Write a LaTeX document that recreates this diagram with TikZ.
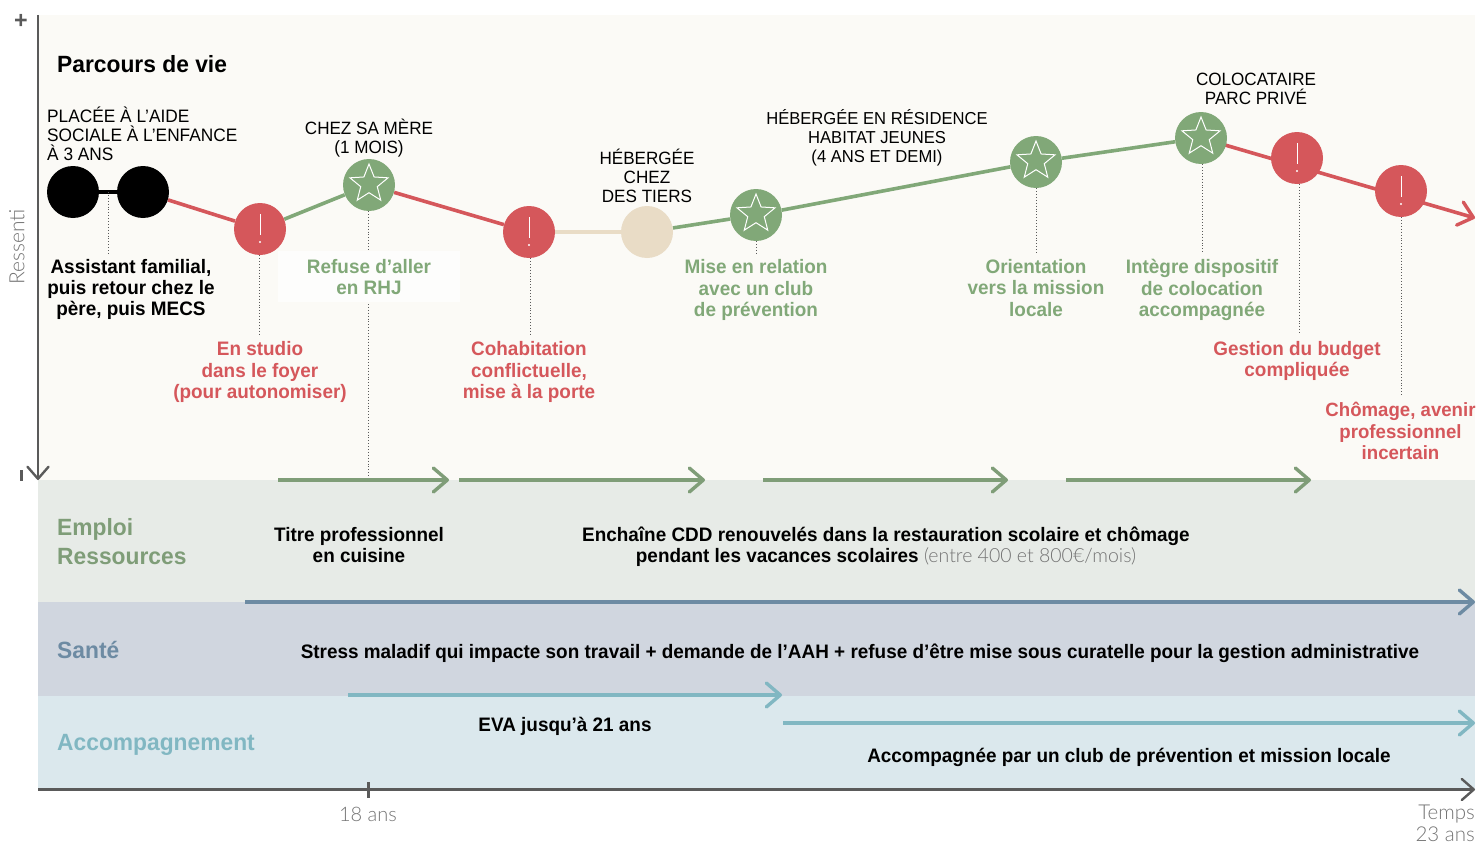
\documentclass[tikz,border=0pt]{standalone}
\usepackage{fontspec}
\setmainfont[FakeStretch=0.97]{Liberation Sans}
\newfontfamily\capsf[FakeStretch=0.96]{Liberation Sans}
\newfontfamily\lightf{Lato Light}
\usetikzlibrary{arrows.meta,shapes.geometric}
\pgfdeclarelayer{lines}
\pgfsetlayers{lines,main}
\definecolor{bgtop}{HTML}{FBFAF6}
\definecolor{bgemp}{HTML}{E7EBE7}
\definecolor{bgsan}{HTML}{D0D6DF}
\definecolor{bgacc}{HTML}{DBE8ED}
\definecolor{cgreen}{HTML}{81A878}
\definecolor{cgreend}{HTML}{7F9D78}
\definecolor{cred}{HTML}{D5575B}
\definecolor{cbeige}{HTML}{E9DCC6}
\definecolor{cblue}{HTML}{6D8BA3}
\definecolor{cteal}{HTML}{81B7C2}
\definecolor{caxis}{HTML}{5A5A5A}
\definecolor{cgrey}{HTML}{737373}
\newcommand{\fsz}[2]{\fontsize{#1}{#2}\selectfont}
\tikzset{
  x=1pt,y=-1pt,
  dot/.style={circle,minimum size=52pt,inner sep=0pt,draw=none},
  blacknode/.style={dot,fill=black},
  beigenode/.style={dot,fill=cbeige},
  rednode/.style={dot,fill=cred,path picture={
    \draw[white,line width=0.9pt] ([yshift=15pt]path picture bounding box.center) -- ([yshift=-6pt]path picture bounding box.center);
    \fill[white] ([yshift=-13pt]path picture bounding box.center) circle (1.2pt);}},
  greennode/.style={dot,fill=cgreen,path picture={
    \node[star,star points=5,star point ratio=2.3,draw=white,line width=1pt,minimum size=40pt,inner sep=0pt] at ([yshift=1pt]path picture bounding box.center) {};}},
  redline/.style={draw=cred,line width=3.6pt},
  greenline/.style={draw=cgreen,line width=3.6pt},
  leader/.style={draw=caxis,line width=0.9pt,dotted},
  lab/.style={align=center,inner sep=0pt,font=\fsz{19.5}{21.3}\bfseries},
  caps/.style={align=center,inner sep=0pt,font=\capsf\fsz{17.8}{19}},
  head/.style={inner sep=0pt,anchor=west,align=left,font=\fsz{23.5}{29}\bfseries},
  barb/.style={-{Straight Barb[length=14pt,width=24pt,line width=3.4pt,round]}},
  axbarb/.style={-{Straight Barb[length=12pt,width=21pt,line width=2.4pt,round]}},
  band/.style={line width=3.8pt,barb},
}
\begin{document}
\begin{tikzpicture}
\useasboundingbox (0,0) rectangle (1478,843);
% bands
\begin{pgfonlayer}{lines}
\fill[bgtop] (38,15) rectangle (1475,480);
\fill[bgemp] (38,480) rectangle (1475,602);
\fill[bgsan] (38,602) rectangle (1475,696);
\fill[bgacc] (38,696) rectangle (1475,789);
\fill[white,opacity=0.7] (278,251) rectangle (460,302);
\end{pgfonlayer}

% axes
\coordinate (yaxa) at (38,15);
\coordinate (yaxb) at (38,480);
\coordinate (xaxa) at (38,789.5);
\coordinate (xaxb) at (1475,789.5);
\draw[caxis,line width=2.6pt,axbarb] (yaxa) -- (yaxb);
\draw[caxis,line width=2.6pt,axbarb] (xaxa) -- (xaxb);
\draw[caxis,line width=3pt] (368,782) -- (368,798);
\draw[caxis,line width=3pt] (21,470) -- (21,481);
\node[text=caxis,inner sep=0pt,font=\fsz{24}{24}\bfseries] (plus) at (21,21) {+};
\node[text=cgrey,inner sep=0pt,rotate=90,font=\fsz{21}{21}\lightf] (ressenti) at (17,247) {Ressenti};
\node[text=cgrey,inner sep=0pt,font=\fsz{20}{22}\lightf] (age) at (368,814) {18 ans};
\node[text=cgrey,inner sep=0pt,align=right,anchor=north east,font=\fsz{20.5}{21.5}\lightf] (temps) at (1475,805) {Temps\\23 ans};

% nodes
\node[blacknode] (b1) at (73,192) {};
\node[blacknode] (b2) at (143,192) {};
\node[rednode] (r1) at (260,229) {};
\node[greennode] (g1) at (369,185) {};
\node[rednode] (r2) at (529,232) {};
\node[beigenode] (c1) at (647,232) {};
\node[greennode] (g2) at (756,215) {};
\node[greennode] (g3) at (1036,162) {};
\node[greennode] (g4) at (1201,138) {};
\node[rednode] (r3) at (1297,158) {};
\node[rednode] (r4) at (1401,191) {};
\coordinate (endarrow) at (1475,218);

% connectors
\begin{pgfonlayer}{lines}
\draw[black,line width=3.6pt] (b1) -- (b2);
\draw[redline] (b2) -- (r1);
\draw[greenline] (r1) -- (g1);
\draw[redline] (g1) -- (r2);
\draw[cbeige,line width=3.6pt] (r2) -- (c1);
\draw[greenline] (c1) -- (g2);
\draw[greenline] (g2) -- (g3);
\draw[greenline] (g3) -- (g4);
\draw[redline,barb] (g4.center) -- (endarrow);
\end{pgfonlayer}

% labels
\node[inner sep=0pt,anchor=west,font=\fsz{23.5}{28}\bfseries] (title) at (57,64) {Parcours de vie};
\node[caps,align=left,anchor=north west,font=\capsf\fsz{18}{19}] (t1) at (47,107) {PLACÉE À L’AIDE\\SOCIALE À L’ENFANCE\\À 3 ANS};
\node[caps] (t2) at (369,138) {CHEZ SA MÈRE\\(1 MOIS)};
\node[caps] (t3) at (647,176) {HÉBERGÉE\\CHEZ\\DES TIERS};
\node[caps,font=\capsf\fsz{17.3}{19}] (t4) at (877,138) {HÉBERGÉE EN RÉSIDENCE\\HABITAT JEUNES\\(4 ANS ET DEMI)};
\node[caps] (t5) at (1256,89) {COLOCATAIRE\\PARC PRIVÉ};

\node[lab] (l0) at (131,289.5) {Assistant familial,\\puis retour chez le\\père, puis MECS};
\node[lab,text=cred] (l1) at (260,372) {En studio\\dans le foyer\\(pour autonomiser)};
\node[lab,text=cgreen] (l2) at (369,277) {Refuse d’aller\\en RHJ};
\node[lab,text=cred] (l3) at (529,372) {Cohabitation\\conflictuelle,\\mise à la porte};
\node[lab,text=cgreen] (l4) at (756,290) {Mise en relation\\avec un club\\de prévention};
\node[lab,text=cgreen] (l5) at (1036,288) {Orientation\\vers la mission\\locale};
\node[lab,text=cgreen] (l6) at (1202,290) {Intègre dispositif\\de colocation\\accompagnée};
\node[lab,text=cred] (l7) at (1297,361) {Gestion du budget\\compliquée};
\node[lab,text=cred,font=\fsz{19.2}{21.3}\bfseries] (l8) at (1400.5,431) {Chômage, avenir\\professionnel\\incertain};

% leaders
\coordinate (m0) at (108,192);
\coordinate (e0) at (108,254);
\coordinate (e1) at (259,334);
\coordinate (e2a) at (368,251);
\coordinate (e2b) at (368,304);
\coordinate (e2c) at (368,478);
\coordinate (e3) at (530,334);
\coordinate (e4) at (756,254);
\coordinate (e5) at (1036,254);
\coordinate (e6) at (1202,254);
\coordinate (e7) at (1299,334);
\coordinate (e8) at (1401,396);
\draw[leader] (m0) -- (e0);
\draw[leader] (r1.south -| e1) -- (e1);
\draw[leader] (g1.south -| e2a) -- (e2a);
\draw[leader] (e2b) -- (e2c);
\draw[leader] (r2.south -| e3) -- (e3);
\draw[leader] (g2.south) -- (e4);
\draw[leader] (g3.south) -- (e5);
\draw[leader] (g4.south -| e6) -- (e6);
\draw[leader] (r3.south -| e7) -- (e7);
\draw[leader] (r4.south) -- (e8);

% band labels
\node[head,text=cgreend] (h1) at (57,529) {Emploi};
\node[head,text=cgreend] (h1b) at (57,557) {Ressources};
\node[head,text=cblue] (h2) at (57,650) {Santé};
\node[head,text=cteal] (h3) at (57,744.5) {Accompagnement};

% band arrows
\coordinate (a1) at (278,480); \coordinate (a2) at (449,480);
\coordinate (a3) at (459,480); \coordinate (a4) at (705,480);
\coordinate (a5) at (763,480); \coordinate (a6) at (1008,480);
\coordinate (a7) at (1066,480); \coordinate (a8) at (1311,480);
\coordinate (a9) at (245,602); \coordinate (a10) at (1475,602);
\coordinate (a11) at (348,695); \coordinate (a12) at (782,695);
\coordinate (a13) at (783,723); \coordinate (a14) at (1475,723);
\draw[band,cgreend] (a1) -- (a2);
\draw[band,cgreend] (a3) -- (a4);
\draw[band,cgreend] (a5) -- (a6);
\draw[band,cgreend] (a7) -- (a8);
\draw[band,cblue] (a9) -- (a10);
\draw[band,cteal] (a11) -- (a12);
\draw[band,cteal] (a13) -- (a14);

% band texts
\node[lab] (e1t) at (359,545) {Titre professionnel\\en cuisine};
\node[lab] (e2t) at (886,547) {Enchaîne CDD renouvelés dans la restauration scolaire et chômage\\pendant les vacances scolaires {\mdseries\lightf\color{cgrey} (entre 400 et 800€/mois)}};
\node[lab] (s1t) at (860,653) {Stress maladif qui impacte son travail + demande de l’AAH + refuse d’être mise sous curatelle pour la gestion administrative};
\node[lab] (a1t) at (565,726) {EVA jusqu’à 21 ans};
\node[lab] (a2t) at (1129,757) {Accompagnée par un club de prévention et mission locale};
\end{tikzpicture}
\end{document}
